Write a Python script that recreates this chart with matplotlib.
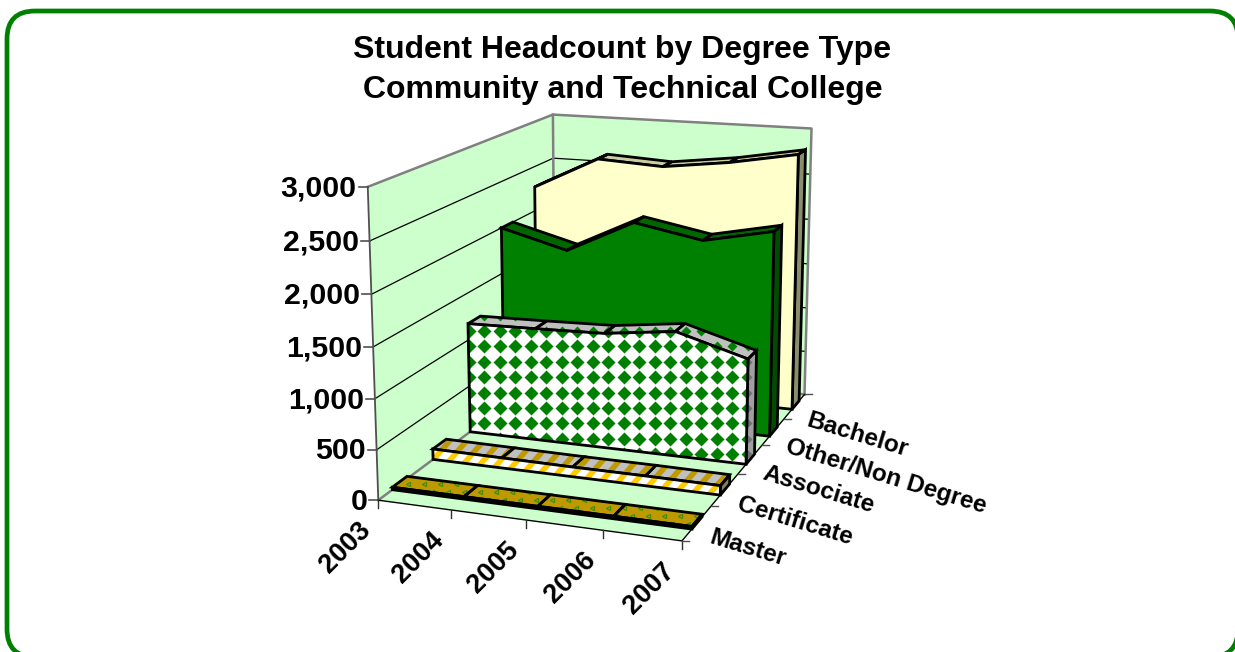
import numpy as np
import matplotlib
matplotlib.use('Agg')
import matplotlib.pyplot as plt
from matplotlib.patches import Polygon, FancyBboxPatch

plt.rcParams['font.family'] = ['Liberation Sans', 'DejaVu Sans']

years = ['2003', '2004', '2005', '2006', '2007']
degrees = ['Master', 'Certificate', 'Associate', 'Other/Non Degree', 'Bachelor']
value_ticks = [0, 500, 1000, 1500, 2000, 2500, 3000]

master = [25, 25, 25, 25, 25]
certificate = [110, 105, 100, 100, 95]
associate = [1175, 1190, 1210, 1300, 1090]
other = [2000, 1810, 2165, 2030, 2180]
bachelor = [2270, 2630, 2590, 2680, 2810]

GREEN = '#008000'
WALL = '#CCFFCC'
GRAY = '#808080'

# camera: box corners (year 0-1, depth 0-1, value 0-1) -> pixels
corners = [((0, 0, 0), (379, 499)), ((1, 0, 0), (682, 542)),
           ((0, 1, 0), (554, 370)), ((1, 1, 0), (805, 393)),
           ((0, 0, 1), (367, 187)), ((0, 1, 1), (554, 114)),
           ((1, 1, 1), (811, 129))]
A, b = [], []
for (x, y, z), (u, v) in corners:
    A.append([x, y, z, 1, 0, 0, 0, 0, -u * x, -u * y, -u * z])
    A.append([0, 0, 0, 0, x, y, z, 1, -v * x, -v * y, -v * z])
    b += [u, v]
h = np.linalg.lstsq(np.array(A, float), np.array(b, float), rcond=None)[0]
H = np.append(h, 1).reshape(3, 4)


def proj(x, d, val):
    p = H @ np.array([x, d, val / 3000, 1.0])
    return p[0] / p[2], p[1] / p[2]


fig = plt.figure(figsize=(12.35, 6.52), dpi=100)
ax = fig.add_axes([0, 0, 1, 1])
ax.set_xlim(0, 1235)
ax.set_ylim(652, 0)
ax.axis('off')

ax.add_patch(FancyBboxPatch((35, 39), 1175, 590, boxstyle='round,pad=28,rounding_size=28',
                            fc='white', ec=GREEN, lw=3.4, clip_on=False))

ax.text(622.5, 50, 'Student Headcount by Degree Type', ha='center', va='center',
        fontsize=23, fontweight='bold')
ax.text(622.5, 90, 'Community and Technical College', ha='center', va='center',
        fontsize=23, fontweight='bold')

# walls and floor
ax.add_patch(Polygon([proj(0, 0, 0), proj(0, 1, 0), proj(0, 1, 3000), proj(0, 0, 3000)],
                     fc=WALL, ec='none', zorder=1))
ax.add_patch(Polygon([proj(0, 1, 0), proj(1, 1, 0), proj(1, 1, 3000), proj(0, 1, 3000)],
                     fc=WALL, ec='none', zorder=1))
ax.add_patch(Polygon([proj(0, 0, 0), proj(1, 0, 0), proj(1, 1, 0), proj(0, 1, 0)],
                     fc=WALL, ec='none', zorder=1))

for v in value_ticks[1:-1]:
    pts = [proj(0, 0, v), proj(0, 1, v), proj(1, 1, v)]
    ax.plot(*zip(*pts), color='black', lw=0.9, zorder=2)
for pts in ([proj(0, 0, 3000), proj(0, 1, 3000), proj(1, 1, 3000), proj(1, 1, 0)],
            [proj(0, 1, 0), proj(0, 1, 3000)],
            [proj(0, 0, 0), proj(0, 1, 0), proj(1, 1, 0)]):
    ax.plot(*zip(*pts), color=GRAY, lw=1.8, zorder=2)
ax.plot(*zip(proj(0, 0, 0), proj(0, 0, 3000)), color='#505050', lw=1.3, zorder=3)
ax.plot(*zip(proj(0, 0, 0), proj(1, 0, 0), proj(1, 1, 0)), color='black', lw=1.0, zorder=3)


def diamonds(patch, size, color, z):
    xs = 484 + 15.5 * np.arange(-35, 55)
    ys = 331 + 15.4 * np.arange(-25, 25)
    gx, gy = np.meshgrid(xs, ys)
    art, = ax.plot(gx.ravel(), gy.ravel(), 'D', ms=size, mfc=color, mec='none', zorder=z)
    art.set_clip_path(patch)


def stripes(patch, color, width, z):
    for c in np.arange(0, 2200, 17):
        art, = ax.plot([c, c - 600], [0, 600 * 1.15], color=color, lw=width, zorder=z,
                       solid_capstyle='butt')
        art.set_clip_path(patch)


def marks(patch, color, z):
    xs = np.arange(-60, 1300, 16.0)
    ys = np.arange(-60, 700, 8.0)
    gx, gy = np.meshgrid(xs, ys)
    gx = gx + (gy / 8 % 2) * 8
    art, = ax.plot(gx.ravel(), gy.ravel(), '<', ms=3, mfc='none', mec=color, mew=0.9, zorder=z)
    art.set_clip_path(patch)


def face(pts, color, z):
    p = Polygon(pts, closed=True, fc=color, ec='none', zorder=z)
    ax.add_patch(p)
    return p


def outline(pts, z):
    ax.add_patch(Polygon(pts, closed=True, fc='none', ec='black', lw=2.0, joinstyle='miter', zorder=z))


def area(values, d0, d1, top_col, front_col, side_col, z, top_fx=None, front_fx=None, side_fx=None):
    n = len(values)
    xs = np.linspace(0, 1, n)
    # top strips, left to right
    for i in range(n - 1):
        pts = [proj(xs[i], d0, values[i]), proj(xs[i + 1], d0, values[i + 1]),
               proj(xs[i + 1], d1, values[i + 1]), proj(xs[i], d1, values[i])]
        p = face(pts, top_col, z)
        if top_fx:
            top_fx(p, z + 0.1)
        outline(pts, z + 0.2)
    # right side
    pts = [proj(1, d0, 0), proj(1, d1, 0), proj(1, d1, values[-1]), proj(1, d0, values[-1])]
    p = face(pts, side_col, z)
    if side_fx:
        side_fx(p, z + 0.1)
    outline(pts, z + 0.2)
    # front
    pts = [proj(0, d0, 0)] + [proj(x, d0, v) for x, v in zip(xs, values)] + [proj(1, d0, 0)]
    p = face(pts, front_col, z + 0.3)
    if front_fx:
        front_fx(p, z + 0.4)
    outline(pts, z + 0.5)


area(bachelor, 0.875, 0.945, '#CCCCA3', '#FFFFCC', '#8C8C6E', 10)
area(other, 0.665, 0.735, '#006600', GREEN, '#004D00', 11)
area(associate, 0.465, 0.535, '#C0C0C0', 'white', '#A0A0A0', 12,
     top_fx=lambda p, z: diamonds(p, 5, GREEN, z),
     front_fx=lambda p, z: diamonds(p, 7.4, GREEN, z),
     side_fx=lambda p, z: diamonds(p, 4, '#707070', z))
area(certificate, 0.265, 0.335, '#C0C0C0', 'white', '#808060', 13,
     top_fx=lambda p, z: stripes(p, '#BF9900', 4, z),
     front_fx=lambda p, z: stripes(p, '#FFCC00', 4, z))
area(master, 0.065, 0.135, '#BF9900', '#FFCC00', '#665200', 14,
     top_fx=lambda p, z: marks(p, '#3F8F10', z))

# axis ticks and labels
for v in value_ticks:
    u, y = proj(0, 0, v)
    ax.plot([u - 9, u], [y, y], color='#505050', lw=1.2, zorder=3)
    ax.text(u - 11, y + 1.5, f'{v:,}', ha='right', va='center', fontsize=21.8, fontweight='bold')

for x, yr in zip(np.linspace(0, 1, 5), years):
    u, y = proj(x, 0, 0)
    ax.plot([u, u], [y, y + 8], color='#303030', lw=1.0, zorder=3)
    ax.text(u - 11, y + 26, yr, ha='right', va='center', rotation=45, rotation_mode='anchor',
            fontsize=19.5, fontweight='bold')

for d in np.linspace(0, 1, 6):
    u, y = proj(1, d, 0)
    ax.plot([u, u + 7], [y, y], color='#505050', lw=1.0, zorder=3)
for d, name in zip([0.1, 0.3, 0.5, 0.7, 0.9], degrees):
    u, y = proj(1, d, 0)
    ax.text(u + 13, y + 14, name, ha='left', va='center', rotation=-17, rotation_mode='anchor',
            fontsize=17.6, fontweight='bold')

fig.savefig('out.png', dpi=100)
